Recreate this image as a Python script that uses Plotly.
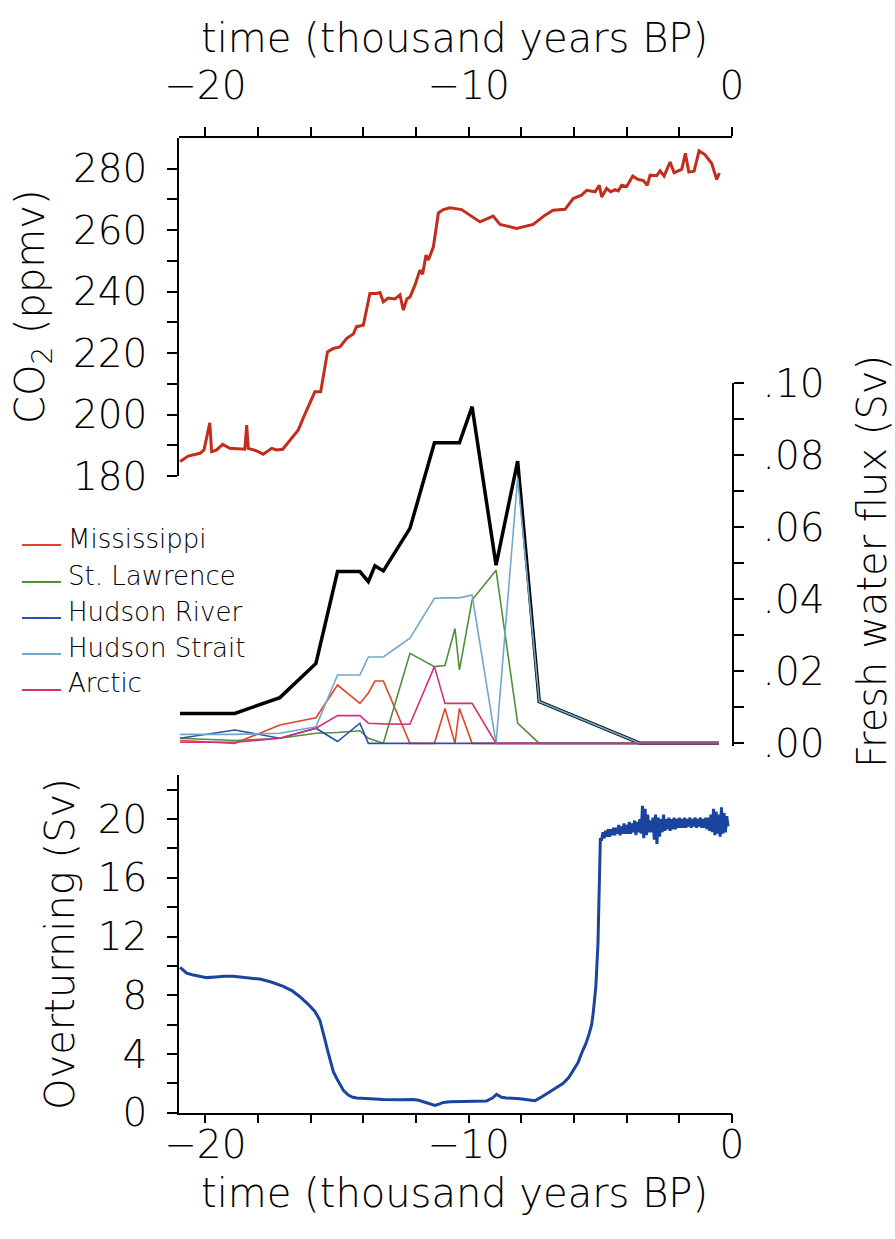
import plotly.graph_objects as go

# ---------------- data ----------------
CO2_T = [-20.96, -20.65, -20.2, -20.05, -19.83, -19.76, -19.57, -19.34, -19.07, -18.5, -18.43, -18.37,
         -18.05, -17.8, -17.48, -17.29, -17.06, -16.79, -16.47, -16.26, -16.09, -15.84, -15.62, -15.36,
         -15.14, -14.89, -14.63, -14.38, -14.26, -14.0, -13.75, -13.5, -13.37, -13.24, -13.05, -12.8,
         -12.61, -12.48, -12.35, -12.23, -12.04, -11.85, -11.75, -11.62, -11.53, -11.34, -11.15, -10.96,
         -10.71, -10.27, -9.57, -9.07, -8.81, -8.18, -7.55, -7.1, -6.79, -6.34, -6.03, -5.71, -5.52,
         -5.2, -5.04, -4.95, -4.76, -4.61, -4.44, -4.32, -4.19, -4.0, -3.77, -3.56, -3.37, -3.22, -3.11,
         -2.86, -2.73, -2.58, -2.35, -2.2, -1.91, -1.77, -1.64, -1.44, -1.25, -1.03, -0.77, -0.65,
         -0.58, -0.48]
CO2_V = [184.7, 186.5, 187.4, 188.5, 197.3, 187.9, 188.5, 190.3, 189.0, 188.7, 196.6, 189.0,
         188.2, 187.1, 189.0, 188.5, 188.7, 191.7, 195.0, 199.3, 202.5, 207.4, 207.4, 220.4,
         221.5, 222.0, 224.8, 226.2, 228.6, 229.1, 239.4, 239.4, 239.7, 236.7, 237.9, 237.6,
         238.9, 234.0, 237.6, 238.2, 242.1, 247.0, 245.7, 251.9, 250.3, 254.6, 265.6, 266.7,
         267.3, 266.7, 262.7, 264.6, 261.9, 260.6, 261.9, 264.9, 266.5, 266.8, 270.3, 271.4, 273.0,
         272.5, 274.6, 270.8, 273.6, 272.5, 273.2, 272.8, 274.6, 274.2, 277.6, 276.5, 276.2, 274.6, 277.9,
         277.7, 279.3, 277.6, 282.2, 278.7, 279.8, 285.0, 278.9, 279.2, 285.8, 284.6, 281.7, 278.4,
         276.5, 278.6]

FW_T = [-20.96, -18.88, -17.17, -15.8, -14.98, -14.13, -13.81, -13.56, -13.24, -12.23,
        -11.3, -10.9, -10.52, -10.35, -9.87, -8.96, -8.14, -7.32, -3.49, -0.5]
FW_TOTAL = [0.0083, 0.0083, 0.0127, 0.0222, 0.0477, 0.0477, 0.0449, 0.0493, 0.0479, 0.0597,
            0.0835, 0.0835, 0.0835, 0.0835, 0.0935, 0.0495, 0.0784, 0.0116, 0.0, 0.0]
FW_NAMES = ["Mississippi", "St. Lawrence", "Hudson River", "Hudson Strait", "Arctic"]
FW_COLORS = ["#e0452b", "#4f8f3a", "#2a50b0", "#70a9c8", "#d2317c"]
FW_MISSISSIPPI = [0.0008, 0.0, 0.0051, 0.0071, 0.0162, 0.0111, 0.0140, 0.0173, 0.0173, 0.0,
                  0.0, 0.0097, 0.0, 0.0097, 0.0, 0.0, 0.0, 0.0, 0.0, 0.0]
FW_STLAWRENCE = [0.0014, 0.0008, 0.0014, 0.0028, 0.0030, 0.0035, 0.0014, 0.0007, 0.0, 0.0250,
                 0.0213, 0.0216, 0.0319, 0.0204, 0.0398, 0.0481, 0.0056, 0.0, 0.0, 0.0]
FW_HUDSONRIVER = [0.0014, 0.0037, 0.0014, 0.0042, 0.0005, 0.0056, 0.0, 0.0, 0.0, 0.0,
                  0.0, 0.0, 0.0, 0.0, 0.0, 0.0, 0.0, 0.0, 0.0, 0.0]
FW_HUDSONSTRAIT = [0.0025, 0.0025, 0.0028, 0.0046, 0.0190, 0.0190, 0.0240, 0.0240, 0.0240, 0.0292,
                   0.0403, 0.0404, 0.0404, 0.0404, 0.0412, 0.0, 0.0738, 0.0116, 0.0, 0.0]
FW_ARCTIC = [0.0003, 0.0003, 0.0014, 0.0042, 0.0077, 0.0077, 0.0056, 0.0055, 0.0054, 0.0053,
             0.0213, 0.0111, 0.0111, 0.0111, 0.0111, 0.0, 0.0, 0.0, 0.0, 0.0]

OVT = [(-20.96, 9.9), (-20.85, 9.7), (-20.71, 9.5), (-20.5, 9.4), (-20.2, 9.3), (-19.95, 9.2),
       (-19.6, 9.25), (-19.3, 9.3), (-18.94, 9.3), (-18.6, 9.25), (-18.3, 9.2), (-17.93, 9.1),
       (-17.5, 8.9), (-17.04, 8.6), (-16.7, 8.3), (-16.41, 7.9), (-16.1, 7.4), (-15.84, 6.9),
       (-15.65, 6.3), (-15.55, 5.7), (-15.46, 5.0), (-15.35, 4.2), (-15.27, 3.6), (-15.14, 2.8),
       (-15.0, 2.3), (-14.89, 1.9), (-14.75, 1.5), (-14.57, 1.2), (-14.4, 1.05), (-14.25, 1.0),
       (-13.8, 0.95), (-13.24, 0.9), (-12.6, 0.88), (-12.1, 0.9), (-11.9, 0.85), (-11.72, 0.75),
       (-11.5, 0.6), (-11.28, 0.5), (-11.1, 0.6), (-10.96, 0.7), (-10.71, 0.75), (-10.0, 0.78),
       (-9.32, 0.8), (-9.1, 1.0), (-8.94, 1.25), (-8.75, 1.05), (-8.56, 1.0), (-8.05, 0.95),
       (-7.48, 0.82), (-7.2, 1.1), (-6.91, 1.43), (-6.65, 1.7), (-6.41, 2.0), (-6.2, 2.4),
       (-6.03, 2.9), (-5.85, 3.4), (-5.71, 4.05), (-5.55, 4.7), (-5.42, 5.4), (-5.33, 6.0),
       (-5.27, 6.8), (-5.17, 8.6), (-5.09, 11.5), (-5.05, 14.9), (-5.03, 18.1), (-5.0, 18.6),
       (-4.95, 18.6), (-4.90, 19.1), (-4.85, 18.7), (-4.80, 19.2), (-4.75, 18.8), (-4.70, 19.3),
       (-4.65, 18.8), (-4.60, 19.3), (-4.55, 18.9), (-4.50, 19.4), (-4.45, 18.9), (-4.40, 19.4),
       (-4.35, 19.0), (-4.30, 19.6), (-4.25, 18.9), (-4.20, 19.5), (-4.15, 19.0), (-4.10, 19.7),
       (-4.05, 19.0), (-4.00, 19.6), (-3.95, 19.0), (-3.90, 19.8), (-3.85, 19.0), (-3.80, 19.7),
       (-3.75, 19.1), (-3.70, 19.9), (-3.65, 18.9), (-3.60, 19.8), (-3.55, 19.1), (-3.50, 20.0),
       (-3.45, 19.0), (-3.40, 20.9), (-3.35, 18.7), (-3.30, 20.7), (-3.25, 18.9), (-3.20, 20.3),
       (-3.15, 19.1), (-3.10, 19.9), (-3.05, 19.1), (-3.00, 20.1), (-2.95, 18.6), (-2.90, 20.3),
       (-2.85, 18.3), (-2.80, 20.1), (-2.75, 18.8), (-2.70, 20.0), (-2.65, 19.1), (-2.60, 20.3),
       (-2.55, 19.2), (-2.50, 20.0), (-2.45, 19.3), (-2.40, 20.1), (-2.35, 19.2), (-2.30, 20.0),
       (-2.25, 19.3), (-2.20, 20.1), (-2.15, 19.3), (-2.10, 20.0), (-2.05, 19.4), (-2.00, 20.1),
       (-1.95, 19.4), (-1.90, 20.0), (-1.85, 19.4), (-1.80, 20.1), (-1.75, 19.4), (-1.70, 20.0),
       (-1.65, 19.5), (-1.60, 20.1), (-1.55, 19.4), (-1.50, 20.0), (-1.45, 19.5), (-1.40, 20.1),
       (-1.35, 19.4), (-1.30, 20.0), (-1.25, 19.5), (-1.20, 20.1), (-1.15, 19.4), (-1.10, 20.0),
       (-1.05, 19.4), (-1.00, 20.1), (-0.95, 19.3), (-0.90, 20.1), (-0.85, 19.2), (-0.80, 20.3),
       (-0.75, 19.1), (-0.70, 20.7), (-0.65, 18.9), (-0.60, 20.5), (-0.55, 19.0), (-0.50, 20.3),
       (-0.45, 18.8), (-0.40, 20.8), (-0.35, 19.0), (-0.30, 20.4), (-0.25, 19.1), (-0.20, 20.2),
       (-0.15, 19.5)]

X_TICKS = [-20, -10, 0]
X_LABELS = ["\u221220", "\u221210", "0"]
X_MINOR = [-18, -16, -14, -12, -8, -6, -4, -2]
CO2_TICKS = [180, 200, 220, 240, 260, 280]
CO2_LABELS = ["180", "200", "220", "240", "260", "280"]
CO2_MINOR = [190, 210, 230, 250, 270]
FW_TICKS = [0.0, 0.02, 0.04, 0.06, 0.08, 0.10]
FW_LABELS = [".00", ".02", ".04", ".06", ".08", ".10"]
FW_MINOR = [0.01, 0.03, 0.05, 0.07, 0.09]
OVT_TICKS = [0, 4, 8, 12, 16, 20]
OVT_LABELS = ["0", "4", "8", "12", "16", "20"]
OVT_MINOR = [2, 6, 10, 14, 18, 22]

# ---------------- layout helpers ----------------
W, H = 895, 1239
FONT = "DejaVu Sans"


def px(x):
    return x / W


def py(y):
    return 1 - y / H


fig = go.Figure()

fig.add_trace(go.Scatter(x=CO2_T, y=CO2_V, mode="lines", line=dict(color="#c22d1c", width=3),
                         xaxis="x", yaxis="y", hoverinfo="skip"))
# invisible trace so that the top time axis is drawn
fig.add_trace(go.Scatter(x=[X_TICKS[0], X_TICKS[-1]], y=[CO2_TICKS[0], CO2_TICKS[0]], mode="lines",
                         line=dict(color="rgba(0,0,0,0)", width=0), xaxis="x2", yaxis="y",
                         hoverinfo="skip"))

fig.add_trace(go.Scatter(x=FW_T, y=FW_TOTAL, mode="lines", line=dict(color="black", width=3.5),
                         xaxis="x", yaxis="y2", hoverinfo="skip"))
fw_series = [FW_MISSISSIPPI, FW_STLAWRENCE, FW_HUDSONRIVER, FW_HUDSONSTRAIT, FW_ARCTIC]
for name, col, vals in zip(FW_NAMES, FW_COLORS, fw_series):
    fig.add_trace(go.Scatter(x=FW_T, y=vals, mode="lines", name=name,
                             line=dict(color=col, width=1.6), xaxis="x", yaxis="y2",
                             hoverinfo="skip"))

fig.add_trace(go.Scatter(x=[p[0] for p in OVT], y=[p[1] for p in OVT], mode="lines",
                         line=dict(color="#1b449e", width=3), xaxis="x", yaxis="y3",
                         hoverinfo="skip"))

tickfont = dict(family=FONT, size=39, color="black", weight=300)
xdom = [px(179), px(732)]
minor_style = dict(ticks="outside", ticklen=9, tickwidth=1.5, tickcolor="black", showgrid=False)
common_x = dict(range=[-21, 0], tickvals=X_TICKS, ticktext=X_LABELS, ticks="outside",
                ticklen=9, tickwidth=1.5, tickcolor="black", showline=True, linecolor="black",
                linewidth=1.5, showgrid=False, zeroline=False, tickfont=tickfont,
                automargin=False, fixedrange=True,
                minor=dict(tickvals=X_MINOR, **minor_style))
common_y = dict(ticks="outside", ticklen=10, tickwidth=1.5, tickcolor="black", showline=True,
                linecolor="black", linewidth=1.5, showgrid=False, zeroline=False,
                tickfont=tickfont, automargin=False, fixedrange=True)
minor_y = dict(ticks="outside", ticklen=10, tickwidth=1.5, tickcolor="black", showgrid=False)

fig.update_layout(
    template="none",
    width=W, height=H, autosize=False,
    margin=dict(l=0, r=0, t=0, b=0, pad=0),
    paper_bgcolor="white", plot_bgcolor="rgba(0,0,0,0)",
    showlegend=False,
    xaxis=dict(domain=xdom, anchor="y3", ticklabelstandoff=-12, **common_x),
    xaxis2=dict(overlaying="x", side="top", anchor="free", position=py(136.7),
                ticklabelstandoff=12, **common_x),
    yaxis=dict(domain=[py(476), py(138)], range=[180, 290], anchor="x", side="left",
               tickvals=CO2_TICKS, ticktext=CO2_LABELS, ticklabelstandoff=12,
               minor=dict(tickvals=CO2_MINOR, **minor_y), **common_y),
    yaxis2=dict(domain=[py(745.5), py(383.3)], range=[-0.0006, 0.1], anchor="x", side="right",
                tickvals=FW_TICKS, ticktext=FW_LABELS, ticklabelstandoff=11,
                minor=dict(tickvals=FW_MINOR, **minor_y), **common_y),
    yaxis3=dict(domain=[py(1112.7), py(775)], range=[0, 23], anchor="x", side="left",
                tickvals=OVT_TICKS, ticktext=OVT_LABELS, ticklabelstandoff=12,
                minor=dict(tickvals=OVT_MINOR, **minor_y), **common_y),
)

titlefont = dict(family=FONT, size=40, color="black", weight=300)
annots = [
    dict(text="time (thousand years BP)", x=px(455), y=py(38)),
    dict(text="time (thousand years BP)", x=px(455), y=py(1193)),
    dict(text="CO<sub>2</sub> (ppmv)", x=px(33), y=py(307), textangle=-90),
    dict(text="Overturning (Sv)", x=px(60), y=py(944), textangle=-90),
    dict(text="Fresh water flux (Sv)", x=px(872), y=py(562), textangle=-90),
]
for a in annots:
    fig.add_annotation(xref="paper", yref="paper", showarrow=False, font=titlefont,
                       xanchor="center", yanchor="middle", **a)

# legend drawn as line samples + labels
leg_text_y = [539, 576, 612, 648, 683]
leg_line_y = [545, 582, 618, 654, 690]
for name, col, ty, ly in zip(FW_NAMES, FW_COLORS, leg_text_y, leg_line_y):
    fig.add_shape(type="line", xref="paper", yref="paper", x0=px(22), x1=px(61),
                  y0=py(ly), y1=py(ly), line=dict(color=col, width=2))
    fig.add_annotation(xref="paper", yref="paper", x=px(66), y=py(ty), text=name,
                       showarrow=False, xanchor="left", yanchor="middle",
                       font=dict(family=FONT, size=26, color="black", weight=300))

fig.write_html("out.html")
